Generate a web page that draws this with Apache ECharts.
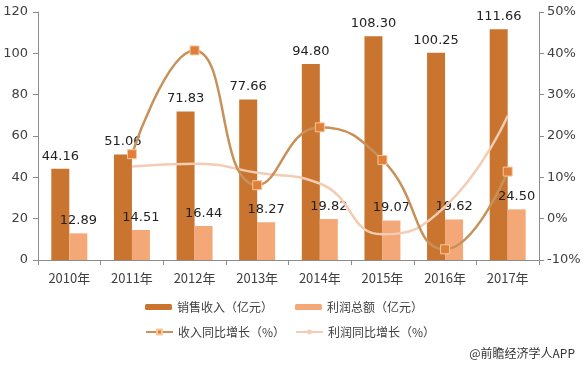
<!DOCTYPE html>
<html><head><meta charset="utf-8">
<script src="https://cdn.jsdelivr.net/npm/echarts@6/dist/echarts.min.js"></script>
<style>html,body{margin:0;padding:0;background:#fff}#c{width:584px;height:366px}</style>
</head><body><div id="c"></div>
<script>
const categories = ['2010年','2011年','2012年','2013年','2014年','2015年','2016年','2017年'];
const salesRevenue = [44.16, 51.06, 71.83, 77.66, 94.80, 108.30, 100.25, 111.66];
const totalProfit = [12.89, 14.51, 16.44, 18.27, 19.82, 19.07, 19.62, 24.50];
const revenueGrowth = [null, 15.6, 40.7, 8.1, 22.1, 14.2, -7.4, 11.4];
const profitGrowth = [null, 12.6, 13.3, 11.1, 8.5, -3.8, 2.9, 24.9];
const leftTicks = [0, 20, 40, 60, 80, 100, 120];
const rightTicks = [-10, 0, 10, 20, 30, 40, 50];
const names = ['销售收入（亿元）','利润总额（亿元）','收入同比增长（%）','利润同比增长（%）'];

const txt = '#404040';
const axisCol = '#8c8c8c';
const chart = echarts.init(document.getElementById('c'));
const legendBase = {padding: 0, itemWidth: 27, itemHeight: 6, itemGap: 4, textStyle: {color: txt, fontSize: 12, fontFamily: 'Noto Sans CJK SC'}};
chart.setOption({
  animation: false,
  grid: {left: 38, right: 45, top: 12, bottom: 106},
  legend: [
    Object.assign({data: [names[0]], left: 145, top: 301}, legendBase),
    Object.assign({data: [names[1]], left: 295, top: 301}, legendBase),
    Object.assign({data: [names[2]], left: 145, top: 326}, legendBase),
    Object.assign({data: [names[3]], left: 295, top: 326}, legendBase)
  ],
  graphic: [{type: 'text', right: 9, top: 347, style: {text: '@前瞻经济学人APP', fill: '#333', fontSize: 12, fontFamily: 'Noto Sans CJK SC'}}],
  xAxis: {
    type: 'category', data: categories,
    axisLine: {lineStyle: {color: axisCol}},
    axisTick: {show: true, length: 5, lineStyle: {color: axisCol}},
    axisLabel: {color: txt, fontSize: 13, margin: 12, fontFamily: 'Noto Sans CJK SC'}
  },
  yAxis: [{
    type: 'value', min: leftTicks[0], max: leftTicks[leftTicks.length-1], interval: 20,
    axisLine: {show: true, lineStyle: {color: axisCol}},
    axisTick: {show: true, length: 5, lineStyle: {color: axisCol}},
    splitLine: {show: false},
    axisLabel: {color: txt, fontSize: 13, margin: 10, fontFamily: 'DejaVu Sans'}
  }, {
    type: 'value', min: rightTicks[0], max: rightTicks[rightTicks.length-1], interval: 10,
    axisLine: {show: true, lineStyle: {color: axisCol}},
    axisTick: {show: true, length: 5, lineStyle: {color: axisCol}},
    splitLine: {show: false},
    axisLabel: {color: txt, fontSize: 13, margin: 8, formatter: '{value}%', fontFamily: 'DejaVu Sans'}
  }],
  series: [{
    name: names[0], type: 'bar', data: salesRevenue, barWidth: 18, barGap: '0%',
    itemStyle: {color: '#c9742f'},
    label: {show: true, position: 'top', distance: 6, color: '#222', fontSize: 13, fontFamily: 'DejaVu Sans', formatter: p => p.value.toFixed(2)}
  }, {
    name: names[1], type: 'bar', data: totalProfit, barWidth: 18,
    itemStyle: {color: '#f5a877'},
    label: {show: true, position: 'top', distance: 6, color: '#222', fontSize: 13, fontFamily: 'DejaVu Sans', formatter: p => p.value.toFixed(2)}
  }, {
    name: names[3], type: 'line', yAxisIndex: 1, data: profitGrowth, smooth: 0.5,
    symbol: 'none', lineStyle: {color: '#f3ccb3', width: 2.5}, itemStyle: {color: '#f3ccb3'}
  }, {
    name: names[2], type: 'line', yAxisIndex: 1, data: revenueGrowth, smooth: 0.5,
    symbol: 'rect', symbolSize: 9,
    lineStyle: {color: '#c8915a', width: 2.5},
    itemStyle: {color: '#e07f3a', borderColor: '#f6c89a', borderWidth: 1}
  }]
});
</script></body></html>
